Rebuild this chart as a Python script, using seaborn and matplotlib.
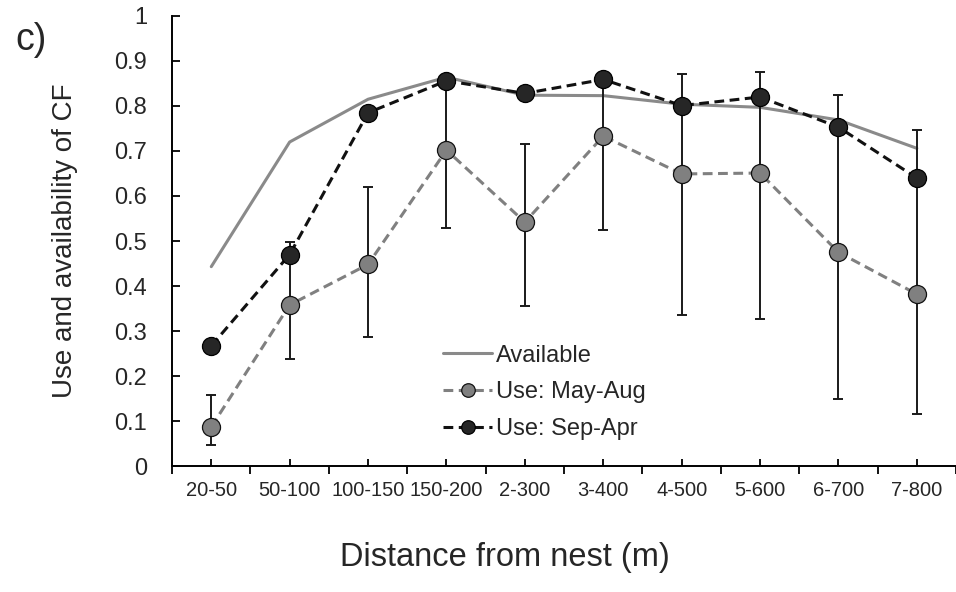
import numpy as np
import pandas as pd
import seaborn as sns
import matplotlib.pyplot as plt

# values
distance = ['20-50', '50-100', '100-150', '150-200', '2-300',
            '3-400', '4-500', '5-600', '6-700', '7-800']
available = [0.443, 0.72, 0.815, 0.864, 0.824, 0.823, 0.804, 0.797, 0.769, 0.706]
use_may_aug = [0.087, 0.358, 0.448, 0.702, 0.542, 0.733, 0.649, 0.651, 0.475, 0.382]
use_sep_apr = [0.267, 0.47, 0.785, 0.856, 0.828, 0.859, 0.801, 0.82, 0.753, 0.64]
# error bar ends for the May-Aug series
err_low = [0.047, 0.238, 0.286, 0.528, 0.356, 0.525, 0.335, 0.326, 0.149, 0.115]
err_high = [0.158, 0.498, 0.62, 0.84, 0.716, 0.85, 0.871, 0.876, 0.824, 0.746]
y_ticks = [0, 0.1, 0.2, 0.3, 0.4, 0.5, 0.6, 0.7, 0.8, 0.9, 1]

sns.set_style('ticks')
plt.rcParams['font.family'] = ['Liberation Sans', 'DejaVu Sans']

fig = plt.figure(figsize=(9.56, 5.92), dpi=100)
ax = fig.add_axes([0.18, 0.2128, 0.82, 0.7602])

dash = (0, (3.2, 1.8))

sns.lineplot(x=distance, y=available, sort=False, color='#8a8a8a', lw=2.2,
             label='Available', ax=ax, zorder=2)

mean = np.array(use_may_aug)
yerr = [mean - np.array(err_low), np.array(err_high) - mean]
ax.errorbar(distance, use_may_aug, yerr=yerr, fmt='none', ecolor='#1a1a1a',
            elinewidth=1.4, capsize=3.5, capthick=1.4, zorder=2.5)

sns.lineplot(x=distance, y=use_may_aug, sort=False, color='#808080', lw=2.2,
             linestyle=dash, marker='o', markersize=13,
             markerfacecolor='#808080', markeredgecolor='#111111',
             markeredgewidth=0.9, label='Use: May-Aug', ax=ax, zorder=3)

sns.lineplot(x=distance, y=use_sep_apr, sort=False, color='#111111', lw=2.2,
             linestyle=dash, marker='o', markersize=13,
             markerfacecolor='#262626', markeredgecolor='#000000',
             markeredgewidth=0.9, label='Use: Sep-Apr', ax=ax, zorder=4)

ax.set_xlim(-0.5, 9.5)
ax.set_ylim(0, 1)
ax.set_yticks(y_ticks)
ax.set_yticklabels([f'{v:g}' for v in y_ticks])
ax.set_xticks(np.arange(-0.5, 10, 1), minor=True)

ax.tick_params(axis='y', direction='in', length=6, width=1.3,
               labelsize=17, pad=18, color='black')
ax.tick_params(axis='x', which='major', direction='in', length=5, width=1.3,
               labelsize=14.5, pad=11, color='black')
ax.tick_params(axis='x', which='minor', direction='out', length=6, width=1.3,
               color='black')

for s in ['top', 'right']:
    ax.spines[s].set_visible(False)
for s in ['left', 'bottom']:
    ax.spines[s].set_linewidth(1.4)
    ax.spines[s].set_color('black')

ax.set_xlabel('Distance from nest (m)', fontsize=23.5)
ax.xaxis.set_label_coords(0.425, -0.168)
ax.set_ylabel('Use and availability of CF', fontsize=20)
ax.yaxis.set_label_coords(-0.12, 0.5)

ax.legend(loc='upper left', bbox_to_anchor=(0.346, 0.27), frameon=False,
          fontsize=17, handlelength=2.05, handletextpad=0.2,
          labelspacing=0.62, borderpad=0, borderaxespad=0, markerscale=0.75)

fig.text(0.016, 0.9155, 'c)', fontsize=27, va='baseline')

fig.savefig('out.png', dpi=100)
